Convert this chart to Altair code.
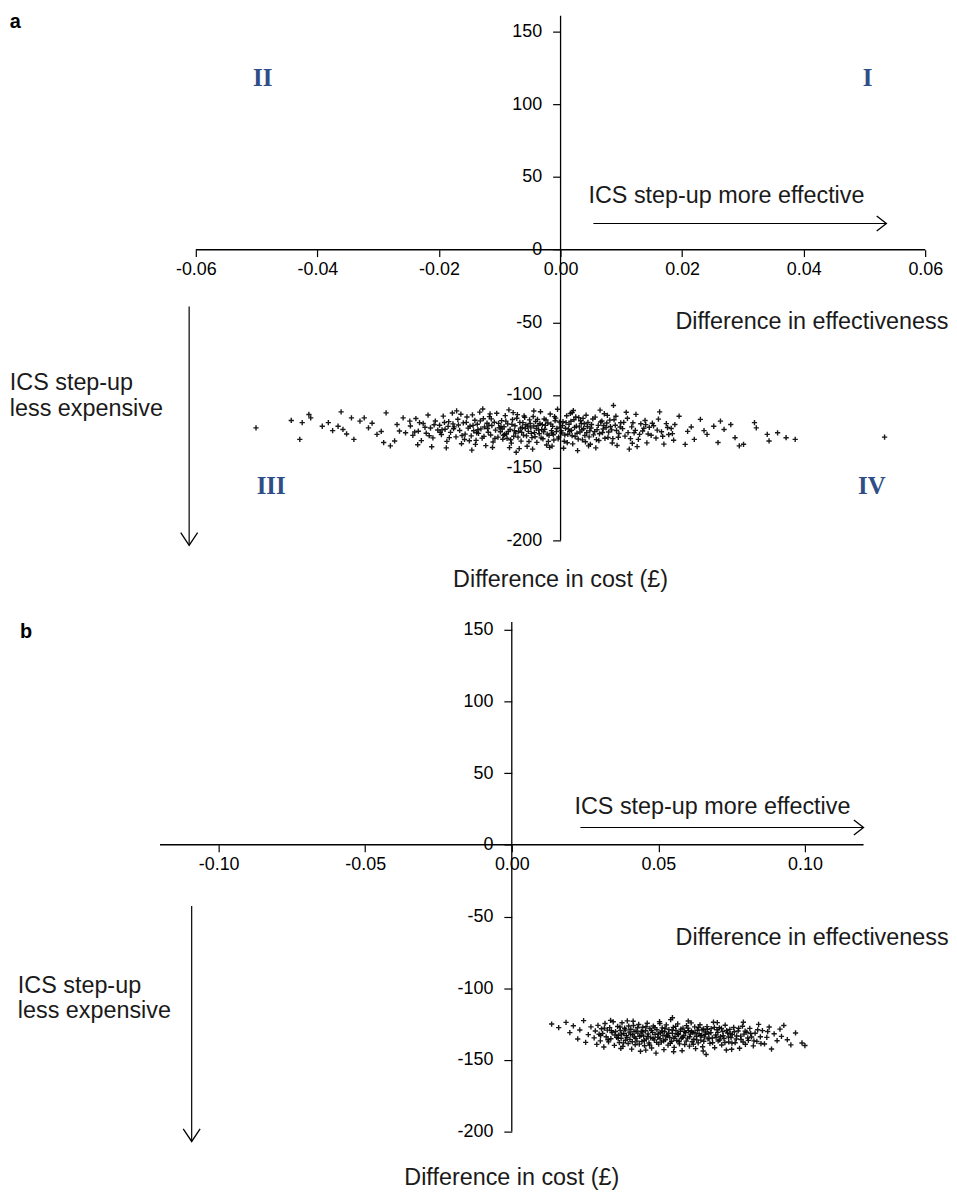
import altair as alt
import pandas as pd

# ---------------- data ----------------
# Panel a: (difference in effectiveness, difference in cost £)
PANEL_A_POINTS = [
    # sparse left tail
    (-0.0501, -122.6), (-0.0443, -117.5), (-0.0425, -119.0), (-0.0414, -113.4), (-0.0411, -115.7),
    (-0.0429, -130.5), (-0.0392, -121.5), (-0.0382, -119.0), (-0.0361, -111.6), (-0.0366, -121.5),
    (-0.0358, -123.7), (-0.0340, -130.5), (-0.0344, -115.7), (-0.0330, -118.0), (-0.0323, -115.7),
    (-0.0316, -122.6), (-0.0302, -127.1), (-0.0291, -132.7), (-0.0287, -112.3), (-0.0280, -135.0),
    (-0.0273, -131.6), (-0.0269, -120.3), (-0.0259, -115.7), (-0.0255, -126.0), (-0.0248, -118.0),
    (-0.0265, -124.8), (-0.0310, -119.4), (-0.0295, -125.1), (-0.0352, -126.8), (-0.0375, -124.5),
    # core
    (-0.0247, -121.3), (-0.0243, -127.8), (-0.0238, -116.2), (-0.0234, -124.9), (-0.0229, -131.4),
    (-0.0226, -119.6), (-0.0221, -126.3), (-0.0218, -113.8), (-0.0214, -122.7), (-0.0210, -129.5),
    (-0.0206, -117.9), (-0.0202, -124.1), (-0.0235, -134.2), (-0.0212, -135.6),
    (-0.0199, -120.8), (-0.0196, -127.2), (-0.0193, -114.5), (-0.0190, -123.6), (-0.0187, -131.9),
    (-0.0184, -118.3), (-0.0181, -125.7), (-0.0178, -112.4), (-0.0175, -121.9), (-0.0172, -128.8),
    (-0.0169, -116.7), (-0.0166, -124.4), (-0.0163, -133.5), (-0.0160, -119.2), (-0.0157, -126.9),
    (-0.0154, -115.1), (-0.0152, -122.8), (-0.0188, -136.4), (-0.0171, -110.9), (-0.0158, -130.6),
    (-0.0195, -124.0), (-0.0177, -119.9),
    (-0.0149, -121.5), (-0.0147, -128.1), (-0.0145, -113.7), (-0.0143, -124.6), (-0.0141, -117.4),
    (-0.0139, -131.2), (-0.0137, -120.1), (-0.0135, -126.4), (-0.0133, -111.8), (-0.0131, -123.3),
    (-0.0129, -129.7), (-0.0127, -116.3), (-0.0125, -122.0), (-0.0123, -134.8), (-0.0121, -119.4),
    (-0.0119, -125.6), (-0.0117, -114.9), (-0.0115, -127.5), (-0.0113, -121.1), (-0.0111, -132.3),
    (-0.0109, -118.7), (-0.0107, -124.2), (-0.0105, -112.6), (-0.0103, -129.0), (-0.0101, -122.5),
    (-0.0146, -137.9), (-0.0128, -109.6), (-0.0112, -136.1), (-0.0136, -123.9), (-0.0118, -120.7),
    (-0.0099, -125.3), (-0.0097, -117.6), (-0.0095, -130.4), (-0.0093, -121.8), (-0.0091, -114.2),
    (-0.0089, -126.8), (-0.0087, -119.9), (-0.0085, -110.2), (-0.0083, -123.7), (-0.0081, -133.1),
    (-0.0079, -116.9), (-0.0077, -128.4), (-0.0075, -121.2), (-0.0073, -139.4), (-0.0071, -113.5),
    (-0.0069, -124.9), (-0.0067, -118.8), (-0.0065, -131.7), (-0.0063, -122.3), (-0.0061, -127.6),
    (-0.0059, -115.4), (-0.0057, -120.5), (-0.0055, -135.3), (-0.0053, -125.0), (-0.0051, -117.1),
    (-0.0096, -123.4), (-0.0088, -129.8), (-0.0078, -112.1), (-0.0068, -136.9), (-0.0058, -123.0),
    (-0.0092, -127.1), (-0.0062, -119.0), (-0.0074, -126.2),
    (-0.0049, -122.6), (-0.0047, -129.3), (-0.0045, -114.8), (-0.0043, -125.9), (-0.0041, -118.2),
    (-0.0039, -132.6), (-0.0037, -121.0), (-0.0035, -126.7), (-0.0033, -111.5), (-0.0031, -123.8),
    (-0.0029, -130.1), (-0.0027, -116.5), (-0.0025, -120.9), (-0.0023, -134.4), (-0.0021, -119.3),
    (-0.0019, -127.8), (-0.0017, -113.1), (-0.0015, -124.5), (-0.0013, -121.6), (-0.0011, -131.0),
    (-0.0009, -117.7), (-0.0007, -125.2), (-0.0005, -109.8), (-0.0003, -128.9), (-0.0001, -122.1),
    (-0.0046, -137.2), (-0.0034, -119.6), (-0.0018, -136.0), (-0.0008, -115.9), (-0.0028, -125.4),
    (-0.0012, -127.3), (-0.0040, -123.1),
    (0.0002, -126.1), (0.0004, -118.4), (0.0006, -131.8), (0.0008, -122.9), (0.0010, -114.3),
    (0.0012, -127.0), (0.0014, -120.2), (0.0016, -112.7), (0.0018, -124.3), (0.0020, -133.6),
    (0.0022, -117.0), (0.0024, -128.6), (0.0026, -121.4), (0.0028, -138.3), (0.0030, -115.6),
    (0.0032, -125.5), (0.0034, -119.5), (0.0036, -130.9), (0.0038, -123.2), (0.0040, -127.9),
    (0.0042, -113.9), (0.0044, -121.7), (0.0046, -135.0), (0.0048, -124.7), (0.0005, -136.6),
    (0.0021, -110.7), (0.0037, -116.1), (0.0013, -123.5),
    (0.0051, -120.3), (0.0054, -127.4), (0.0057, -115.2), (0.0060, -123.9), (0.0063, -131.3),
    (0.0066, -118.6), (0.0069, -125.8), (0.0072, -112.9), (0.0075, -122.4), (0.0078, -129.2),
    (0.0081, -117.3), (0.0084, -124.0), (0.0087, -107.2), (0.0090, -120.8), (0.0093, -134.7),
    (0.0096, -126.5), (0.0099, -119.1), (0.0058, -136.4), (0.0071, -121.0), (0.0086, -130.0),
    (0.0065, -110.4), (0.0091, -114.6),
    (0.0102, -123.1), (0.0106, -128.3), (0.0110, -116.0), (0.0113, -137.2), (0.0117, -121.9),
    (0.0121, -126.0), (0.0124, -113.3), (0.0128, -130.5), (0.0132, -119.8), (0.0135, -124.8),
    (0.0139, -117.5), (0.0142, -132.9), (0.0146, -122.2), (0.0149, -127.7), (0.0108, -111.9),
    (0.0126, -135.5), (0.0140, -120.4),
    (0.0153, -121.2), (0.0157, -129.6), (0.0161, -116.6), (0.0163, -111.6), (0.0166, -125.3),
    (0.0170, -133.8), (0.0174, -119.7), (0.0178, -127.2), (0.0182, -123.0), (0.0186, -131.1),
    (0.0159, -124.2),
    # more core
    (-0.0198, -125.6), (-0.0191, -118.9), (-0.0183, -129.3), (-0.0176, -123.2), (-0.0168, -120.6),
    (-0.0162, -127.9), (-0.0155, -118.8), (-0.0150, -131.5), (-0.0144, -120.9), (-0.0138, -126.0),
    (-0.0132, -117.8), (-0.0126, -128.5), (-0.0120, -123.1), (-0.0114, -116.4), (-0.0108, -129.9),
    (-0.0102, -119.5), (-0.0098, -121.6), (-0.0094, -127.7), (-0.0090, -118.0), (-0.0086, -125.1),
    (-0.0082, -130.8), (-0.0080, -120.2), (-0.0076, -124.6), (-0.0072, -116.0), (-0.0070, -129.0),
    (-0.0066, -122.8), (-0.0064, -125.7), (-0.0060, -114.4), (-0.0056, -128.1), (-0.0054, -121.5),
    (-0.0052, -132.0), (-0.0050, -119.6), (-0.0048, -126.4), (-0.0044, -121.3), (-0.0042, -128.7),
    (-0.0038, -116.8), (-0.0036, -124.2), (-0.0032, -129.5), (-0.0030, -120.4), (-0.0026, -123.6),
    (-0.0024, -117.2), (-0.0022, -126.9), (-0.0020, -131.9), (-0.0016, -120.0), (-0.0014, -126.2),
    (-0.0010, -114.9), (-0.0006, -123.0), (-0.0004, -130.2), (-0.0002, -118.6), (0.0001, -124.6),
    (0.0003, -121.1), (0.0007, -127.5), (0.0009, -119.0), (0.0011, -132.8), (0.0015, -125.0),
    (0.0017, -118.1), (0.0019, -128.0), (0.0023, -122.3), (0.0025, -115.1), (0.0027, -126.3),
    (0.0029, -130.3), (0.0031, -121.9), (0.0033, -117.7), (0.0035, -124.0), (0.0039, -119.8),
    (0.0041, -132.2), (0.0043, -125.9), (0.0045, -118.9), (0.0047, -128.8), (0.0050, -122.7),
    (0.0053, -116.5), (0.0056, -125.2), (0.0059, -130.7), (0.0062, -120.9), (0.0064, -126.7),
    (0.0068, -117.9), (0.0070, -123.4), (0.0073, -129.8), (0.0076, -119.3), (0.0079, -125.5),
    (0.0082, -121.7), (0.0085, -133.0), (0.0088, -117.0), (0.0092, -124.4), (0.0095, -129.1),
    (0.0098, -122.0), (0.0104, -118.8), (0.0111, -125.9), (0.0115, -130.0), (0.0119, -119.1),
    (0.0123, -124.3), (0.0130, -127.1), (0.0137, -122.9), (0.0144, -126.8), (0.0151, -119.4),
    (0.0168, -128.4), (0.0176, -122.4), (0.0184, -126.6), (-0.0223, -122.2), (-0.0216, -128.0),
    (-0.0208, -120.5), (-0.0240, -125.5), (-0.0232, -119.0), (-0.0185, -121.6), (-0.0164, -113.2),
    (-0.0140, -134.0), (-0.0116, -113.0), (-0.0084, -136.2), (-0.0044, -111.0), (-0.0014, -135.2),
    (0.0019, -112.1), (0.0049, -133.9), (0.0077, -114.0), (0.0118, -133.2),
    # sparse right tail
    (0.0188, -120.3), (0.0195, -114.6), (0.0209, -125.0), (0.0220, -130.5), (0.0230, -116.8),
    (0.0241, -127.1), (0.0252, -121.5), (0.0259, -132.7), (0.0269, -123.7), (0.0280, -120.3),
    (0.0287, -129.4), (0.0294, -135.0), (0.0301, -133.9), (0.0319, -119.0), (0.0322, -122.6),
    (0.0340, -127.1), (0.0343, -131.6), (0.0357, -126.0), (0.0371, -129.4), (0.0386, -130.5),
    (0.0533, -129.0), (0.0215, -122.0), (0.0236, -124.5), (0.0263, -118.0), (0.0205, -134.0),
]

# Panel b: (difference in effectiveness, difference in cost £)
PANEL_B_POINTS = [
    (0.0136, -125.0), (0.0160, -127.5), (0.0185, -123.8), (0.0198, -131.0), (0.0210, -126.2),
    (0.0225, -135.4), (0.0232, -129.1), (0.0245, -122.6), (0.0252, -137.8), (0.0261, -132.4),
    (0.0270, -127.0),
    (0.0281, -134.6), (0.0285, -129.8), (0.0290, -139.2), (0.0294, -125.9), (0.0298, -132.1),
    (0.0302, -136.7), (0.0306, -128.3), (0.0310, -131.5), (0.0314, -141.0), (0.0318, -124.6),
    (0.0322, -133.9), (0.0326, -129.2), (0.0330, -137.4), (0.0334, -127.5), (0.0338, -135.2),
    (0.0342, -131.0), (0.0346, -123.4), (0.0350, -139.9), (0.0354, -130.2), (0.0358, -134.3),
    (0.0361, -126.7), (0.0364, -132.8), (0.0367, -137.9), (0.0370, -129.4), (0.0373, -134.9),
    (0.0376, -124.1), (0.0379, -140.6), (0.0382, -131.7), (0.0385, -127.9), (0.0388, -136.3),
    (0.0391, -133.1), (0.0394, -122.8), (0.0397, -138.6), (0.0400, -130.6), (0.0403, -135.7),
    (0.0406, -128.6), (0.0409, -142.5), (0.0412, -132.5), (0.0415, -126.0), (0.0418, -134.0),
    (0.0421, -139.4), (0.0424, -129.9), (0.0427, -136.9), (0.0430, -131.3), (0.0433, -125.3),
    (0.0436, -133.6), (0.0439, -144.0), (0.0442, -130.0),
    (0.0444, -137.2), (0.0447, -127.2), (0.0450, -133.4), (0.0453, -140.1), (0.0456, -129.7),
    (0.0459, -135.5), (0.0462, -124.4), (0.0465, -131.9), (0.0468, -138.2), (0.0471, -128.1),
    (0.0474, -134.6), (0.0477, -141.7), (0.0480, -130.8), (0.0483, -126.4), (0.0486, -136.0),
    (0.0489, -132.2), (0.0492, -145.3), (0.0495, -129.0), (0.0498, -134.2), (0.0501, -139.0),
    (0.0504, -123.3), (0.0507, -131.1), (0.0510, -137.6), (0.0513, -127.7), (0.0516, -133.0),
    (0.0519, -142.8),
    (0.0521, -130.4), (0.0524, -135.9), (0.0527, -125.6), (0.0530, -132.7), (0.0533, -139.7),
    (0.0536, -128.9), (0.0539, -134.4), (0.0542, -121.9), (0.0545, -137.0), (0.0548, -131.5),
    (0.0551, -127.3), (0.0554, -141.3), (0.0557, -133.8), (0.0560, -129.5), (0.0563, -136.5),
    (0.0566, -124.9), (0.0569, -132.3), (0.0572, -138.8), (0.0575, -130.1), (0.0578, -135.0),
    (0.0581, -143.6), (0.0584, -127.8), (0.0587, -133.2), (0.0590, -139.3), (0.0593, -131.0),
    (0.0596, -126.1),
    (0.0600, -134.8), (0.0603, -129.6), (0.0606, -140.4), (0.0609, -132.0), (0.0612, -124.2),
    (0.0615, -137.3), (0.0618, -130.9), (0.0621, -135.6), (0.0624, -127.0), (0.0627, -142.1),
    (0.0630, -133.5), (0.0633, -129.3), (0.0636, -138.1), (0.0639, -131.8), (0.0642, -125.5),
    (0.0645, -136.2), (0.0648, -132.9), (0.0651, -140.8), (0.0654, -128.4), (0.0657, -134.1),
    (0.0660, -130.5), (0.0663, -146.2), (0.0666, -126.8), (0.0669, -135.3),
    (0.0672, -131.6), (0.0676, -138.5), (0.0680, -128.2), (0.0684, -134.7), (0.0688, -123.7),
    (0.0692, -141.5), (0.0696, -132.6), (0.0700, -129.0), (0.0704, -136.8), (0.0708, -127.6),
    (0.0712, -133.7), (0.0716, -139.6), (0.0720, -130.3), (0.0724, -135.1), (0.0728, -125.8),
    (0.0732, -143.1), (0.0736, -131.2), (0.0740, -137.5), (0.0744, -128.7), (0.0748, -134.5),
    (0.0752, -132.4),
    (0.0757, -127.4), (0.0762, -138.0), (0.0767, -133.3), (0.0772, -129.8), (0.0777, -141.9),
    (0.0782, -135.8), (0.0787, -126.5), (0.0792, -132.0), (0.0797, -139.1), (0.0802, -130.7),
    (0.0807, -136.4), (0.0812, -128.0), (0.0818, -134.0), (0.0824, -140.2), (0.0830, -131.4),
    (0.0836, -137.1), (0.0842, -125.2), (0.0848, -133.9),
    # more core
    (0.0303, -133.0), (0.0316, -127.8), (0.0328, -135.9), (0.0340, -129.7), (0.0352, -132.6),
    (0.0363, -135.0), (0.0369, -127.1), (0.0375, -131.9), (0.0381, -138.1), (0.0387, -129.1),
    (0.0393, -134.4), (0.0399, -126.4), (0.0405, -132.0), (0.0411, -137.3), (0.0417, -130.1),
    (0.0423, -135.0), (0.0429, -127.6), (0.0435, -139.0), (0.0441, -133.0), (0.0446, -130.6),
    (0.0452, -136.5), (0.0458, -126.9), (0.0464, -133.6), (0.0470, -139.6), (0.0476, -129.4),
    (0.0482, -134.9), (0.0488, -127.5), (0.0494, -137.8), (0.0500, -131.9), (0.0506, -135.2),
    (0.0512, -129.8), (0.0518, -136.8), (0.0523, -127.9), (0.0529, -133.5), (0.0535, -131.4),
    (0.0541, -138.4), (0.0547, -129.2), (0.0553, -134.9), (0.0559, -126.6), (0.0565, -131.8),
    (0.0571, -137.2), (0.0577, -128.5), (0.0583, -134.2), (0.0589, -130.3), (0.0595, -136.9),
    (0.0601, -127.8), (0.0607, -133.9), (0.0613, -130.0), (0.0619, -139.1), (0.0625, -131.2),
    (0.0631, -136.0), (0.0637, -127.4), (0.0643, -133.0), (0.0649, -129.1), (0.0655, -137.0),
    (0.0661, -132.1), (0.0667, -128.8), (0.0673, -135.0), (0.0679, -131.0), (0.0685, -138.0),
    (0.0691, -127.3), (0.0697, -134.2), (0.0703, -130.8), (0.0709, -136.1), (0.0715, -128.0),
    (0.0721, -133.1), (0.0727, -137.9), (0.0733, -129.5), (0.0739, -134.0), (0.0745, -131.7),
    (0.0751, -138.3), (0.0759, -130.4), (0.0766, -135.4), (0.0774, -127.9), (0.0781, -133.4),
    (0.0789, -137.5), (0.0796, -129.9), (0.0805, -134.7), (0.0815, -131.6), (0.0826, -136.7),
    (0.0839, -129.0), (0.0850, -138.6), (0.0372, -142.0), (0.0414, -123.0), (0.0457, -143.2),
    (0.0505, -124.6), (0.0552, -144.3), (0.0602, -122.9), (0.0653, -143.8), (0.0701, -124.0),
    (0.0750, -142.6), (0.0337, -122.4), (0.0548, -120.6), (0.0790, -123.7), (0.0873, -130.2),
    (0.0920, -133.6),
    # sparse right tail
    (0.0855, -129.6), (0.0862, -138.9), (0.0870, -134.3), (0.0878, -127.1), (0.0886, -142.4),
    (0.0895, -131.8), (0.0905, -136.6), (0.0915, -128.5), (0.0928, -126.0), (0.0940, -135.9),
    (0.0952, -139.5), (0.0968, -131.2), (0.0990, -138.2), (0.1000, -140.0),
]

A_X_TICKS = [-0.06, -0.04, -0.02, 0.0, 0.02, 0.04, 0.06]
B_X_TICKS = [-0.10, -0.05, 0.0, 0.05, 0.10]
Y_TICKS = [150, 100, 50, 0, -50, -100, -150, -200]
QUADRANTS = ["II", "I", "III", "IV"]
TXT_MORE_EFFECTIVE = "ICS step-up more effective"
TXT_LESS_EXPENSIVE = ["ICS step-up", "less expensive"]
TXT_X_TITLE = "Difference in effectiveness"
TXT_Y_TITLE = "Difference in cost (£)"

# ---------------- styling ----------------
SANS = "Liberation Sans"
SERIF = "Liberation Serif"
QUAD_COLOR = "#2F4E86"
CROSS = "M-1,0L1,0M0,-1L0,1"
RIGHT_HEAD = "M-1.3,-1L0,0L-1.3,1"
DOWN_HEAD = "M-1,-1.5L0,0L1,-1.5"
HYPHEN_LABEL = "replace(datum.label, '\u2212', '-')"


def build_panel(cfg):
    W, H = cfg["w"], cfg["h"]
    xdom, ydom = cfg["xdom"], cfg["ydom"]
    xs = alt.Scale(domain=xdom, nice=False, zero=False)
    ys = alt.Scale(domain=ydom, nice=False, zero=False)
    x0_px = (0 - xdom[0]) / (xdom[1] - xdom[0]) * W
    y0_px = (ydom[1] - 0) / (ydom[1] - ydom[0]) * H

    xaxis = alt.Axis(values=cfg["xticks"], format=".2f", labelExpr=HYPHEN_LABEL,
                     orient="bottom", offset=-(H - y0_px), domain=False, grid=False,
                     tickSize=7, tickColor="black", tickWidth=1.2,
                     labelFont=SANS, labelFontSize=18, labelColor="black",
                     labelPadding=4, labelFlush=False, labelOverlap=False, title=None)
    yaxis = alt.Axis(values=Y_TICKS, format="d", labelExpr=HYPHEN_LABEL,
                     orient="left", offset=-x0_px, domain=False, grid=False,
                     tickSize=8, tickColor="black", tickWidth=1.2,
                     labelFont=SANS, labelFontSize=18, labelColor="black",
                     labelPadding=11, labelOverlap=False, title=None)

    def X(f="x"):
        return alt.X(f"{f}:Q", scale=xs, axis=xaxis, title=None)

    def Y(f="y"):
        return alt.Y(f"{f}:Q", scale=ys, axis=yaxis, title=None)

    pts = pd.DataFrame(cfg["points"], columns=["x", "y"])
    scatter = alt.Chart(pts).mark_point(
        shape=CROSS, filled=False, size=28, strokeWidth=1.4, color="#000", opacity=0.9
    ).encode(x=X(), y=Y())

    # axis lines + arrow shafts
    lines = pd.DataFrame(cfg["lines"], columns=["x", "x2", "y", "y2", "w"])
    line_layer = alt.Chart(lines).mark_rule(color="black").encode(
        x=X("x"), x2="x2:Q", y=Y("y"), y2="y2:Q",
        strokeWidth=alt.StrokeWidth("w:Q", scale=None))

    heads_r = alt.Chart(pd.DataFrame([cfg["head_right"]], columns=["x", "y"])).mark_point(
        shape=RIGHT_HEAD, filled=False, size=225, strokeWidth=1.3, color="black", opacity=1
    ).encode(x=X(), y=Y())
    heads_d = alt.Chart(pd.DataFrame([cfg["head_down"]], columns=["x", "y"])).mark_point(
        shape=DOWN_HEAD, filled=False, size=289, strokeWidth=1.3, color="black", opacity=1
    ).encode(x=X(), y=Y())

    layers = [scatter, line_layer, heads_r, heads_d]

    # texts
    for rows, props in cfg["texts"]:
        df = pd.DataFrame(rows, columns=["x", "y", "t"])
        layers.append(alt.Chart(df).mark_text(**props).encode(x=X(), y=Y(), text="t:N"))

    return alt.layer(*layers).properties(width=W, height=H)


BIG = dict(font=SANS, fontSize=23.5, color="#1a1a1a", baseline="middle")
QUAD = dict(font=SERIF, fontSize=25, fontWeight="bold", color=QUAD_COLOR,
            align="center", baseline="middle")
LETTER = dict(font=SANS, fontSize=20, fontWeight="bold", color="black",
              align="left", baseline="middle")

panel_a = build_panel(dict(
    w=947, h=584,
    xdom=[-0.0909, 0.0639], ydom=[-235.56, 163.65],
    xticks=A_X_TICKS,
    points=PANEL_A_POINTS,
    lines=[
        (-0.06, 0.06, 0, 0, 1.5),          # x axis line
        (0, 0, -200, 160.9, 1.3),          # y axis line
        (0.0054, 0.0536, 18.0, 18.0, 1.2),  # effectiveness arrow
        (-0.0611, -0.0611, -39.2, -203.4, 1.2),  # cost arrow
    ],
    head_right=(0.0536, 18.0),
    head_down=(-0.0611, -203.4),
    texts=[
        ([(-0.0906, 156.8, "a")], LETTER),
        ([(-0.0490, 117.9, QUADRANTS[0]), (0.0505, 117.9, QUADRANTS[1]),
          (-0.0476, -162.4, QUADRANTS[2]), (0.0512, -162.4, QUADRANTS[3])], QUAD),
        ([(0.0046, 37.2, TXT_MORE_EFFECTIVE),
          (-0.0906, -91.5, TXT_LESS_EXPENSIVE[0]),
          (-0.0906, -109.6, TXT_LESS_EXPENSIVE[1])], dict(BIG, align="left")),
        ([(0.0638, -49.6, TXT_X_TITLE)], dict(BIG, align="right")),
        ([(0.0, -227.3, TXT_Y_TITLE)], dict(BIG, align="center")),
    ],
))

panel_b = build_panel(dict(
    w=947, h=588,
    xdom=[-0.17186, 0.14915], ydom=[-236.75, 170.77],
    xticks=B_X_TICKS,
    points=PANEL_B_POINTS,
    lines=[
        (-0.12, 0.12, 0, 0, 1.5),
        (0, 0, -200, 155.5, 1.3),
        (0.0234, 0.1200, 12.1, 12.1, 1.2),
        (-0.1092, -0.1092, -42.6, -206.9, 1.2),
    ],
    head_right=(0.1200, 12.1),
    head_down=(-0.1092, -206.9),
    texts=[
        ([(-0.1678, 148.7, "b")], LETTER),
        ([(0.0214, 26.6, TXT_MORE_EFFECTIVE),
          (-0.1685, -98.3, TXT_LESS_EXPENSIVE[0]),
          (-0.1685, -116.1, TXT_LESS_EXPENSIVE[1])], dict(BIG, align="left")),
        ([(0.1490, -64.9, TXT_X_TITLE)], dict(BIG, align="right")),
        ([(0.0, -232.1, TXT_Y_TITLE)], dict(BIG, align="center")),
    ],
))

chart = alt.vconcat(panel_a, panel_b, spacing=8).properties(padding=0).configure_view(stroke=None)

chart.save("out.html", embed_options={"renderer": "svg", "actions": False})
